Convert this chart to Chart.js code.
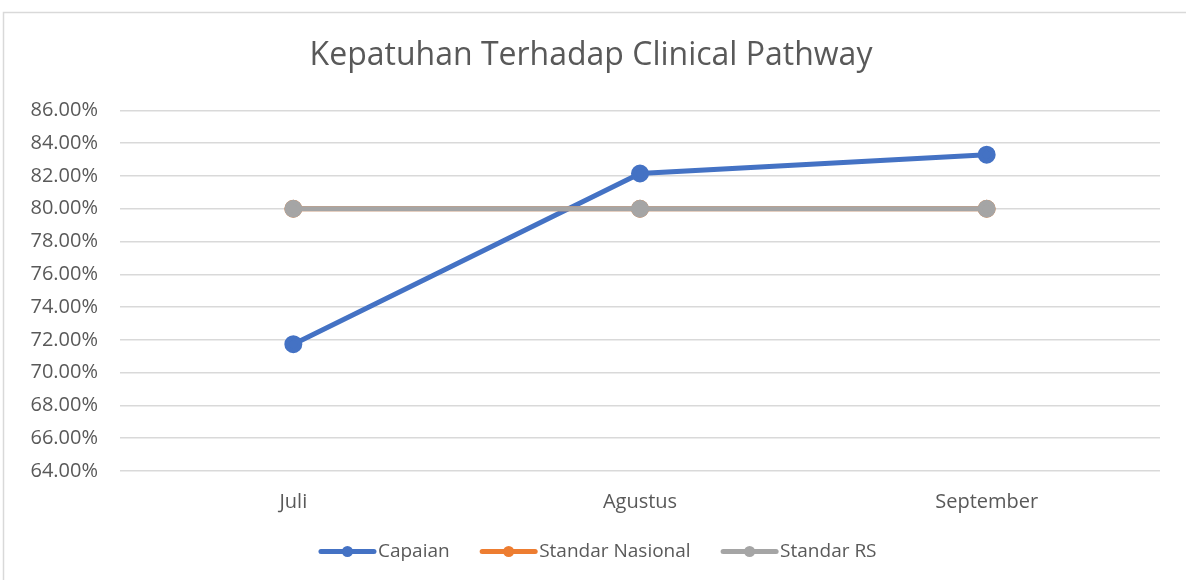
<!DOCTYPE html>
<html>
<head>
<meta charset="utf-8">
<script src="https://cdn.jsdelivr.net/npm/chart.js@4.4.1/dist/chart.umd.min.js"></script>
<style>
  html, body { margin: 0; padding: 0; background: #fff; }
  #wrap { position: relative; width: 1186px; height: 580px; }
</style>
</head>
<body>
<div id="wrap"><canvas id="chart_cp" width="1186" height="580"></canvas></div>
<script>
// DATA
var months = ['Juli', 'Agustus', 'September'];
var capaian = [71.74, 82.15, 83.3];
var standarNasional = [80, 80, 80];
var standarRS = [80, 80, 80];
var yMin = 64, yMax = 86, yStep = 2;

var FONT = 'Open Sans';
var TEXT = '#595959';
var LEG_BOX = 63;   // room chart.js keeps for the legend marker
var LEG_LINE = 57;  // length of the drawn legend line

// FRAME AROUND THE CHART (like the Excel chart border)
var framePlugin = {
	id: 'frame',
	beforeDraw: function(chart) {
		var ctx = chart.ctx;
		ctx.save();
		ctx.strokeStyle = '#d9d9d9';
		ctx.lineWidth = 1.5;
		ctx.strokeRect(3.5, 12.5, chart.width + 10, chart.height);
		ctx.restore();
	}
};

// LINE + DOT LEGEND MARKERS, EXCEL STYLE
var legendMarkers = {
	id: 'legendMarkers',
	afterDraw: function(chart) {
		var legend = chart.legend;
		if (!legend || !legend.legendHitBoxes) return;
		var ctx = chart.ctx;
		var fs = legend.options.labels.font.size;
		legend.legendHitBoxes.forEach(function(box, i) {
			var item = legend.legendItems[i];
			var ds = chart.data.datasets[item.datasetIndex];
			var x1 = box.left + LEG_BOX + fs / 2 - 2;
			var x0 = x1 - LEG_LINE;
			var y = box.top + box.height / 2;
			ctx.save();
			ctx.strokeStyle = ds.borderColor;
			ctx.fillStyle = ds.borderColor;
			ctx.lineWidth = 5;
			ctx.lineCap = 'round';
			ctx.beginPath();
			ctx.moveTo(x0 + 2, y);
			ctx.lineTo(x1 - 2, y);
			ctx.stroke();
			ctx.beginPath();
			ctx.arc((x0 + x1) / 2, y, 5.5, 0, Math.PI * 2);
			ctx.fill();
			ctx.restore();
		});
	}
};

var cp = document.getElementById('chart_cp').getContext('2d');
var cpChart = new Chart(cp, {
	type: 'line',
	data: {
		labels: months,
		datasets: [{
			label: 'Capaian',
			data: capaian,
			borderColor: '#4472c4',
			backgroundColor: '#4472c4',
			borderWidth: 5,
			pointRadius: 6.5,
			pointHoverRadius: 6.5,
			order: 3
		}, {
			label: 'Standar Nasional',
			data: standarNasional,
			borderColor: '#ed7d31',
			backgroundColor: '#ed7d31',
			borderWidth: 5,
			pointRadius: 6.5,
			order: 2
		}, {
			label: 'Standar RS',
			data: standarRS,
			borderColor: '#a5a5a5',
			backgroundColor: '#a5a5a5',
			borderWidth: 5,
			pointRadius: 6.5,
			order: 1
		}]
	},
	options: {
		responsive: false,
		animation: false,
		layout: {
			padding: { top: 37, left: 22, right: 26, bottom: 9 }
		},
		plugins: {
			title: {
				display: true,
				text: 'Kepatuhan Terhadap Clinical Pathway',
				color: TEXT,
				font: { family: FONT, size: 32, weight: 'normal' },
				padding: { top: 0, bottom: 35 }
			},
			legend: {
				position: 'bottom',
				labels: {
					color: TEXT,
					font: { family: FONT, size: 19 },
					boxWidth: LEG_BOX,
					boxHeight: 5,
					padding: 17,
					sort: function(a, b) { return a.datasetIndex - b.datasetIndex; },
					generateLabels: function(chart) {
						var items = Chart.defaults.plugins.legend.labels.generateLabels(chart);
						items.forEach(function(it) {
							it.fillStyle = 'rgba(0,0,0,0)';
							it.strokeStyle = 'rgba(0,0,0,0)';
							it.lineWidth = 0;
						});
						return items;
					}
				}
			},
			tooltip: { enabled: false }
		},
		scales: {
			x: {
				offset: true,
				grid: { display: false },
				border: { display: false },
				ticks: {
					color: TEXT,
					font: { family: FONT, size: 20 },
					padding: 11
				}
			},
			y: {
				min: yMin,
				max: yMax,
				grid: { color: '#d9d9d9', lineWidth: 1.5, drawTicks: false },
				border: { display: false },
				ticks: {
					stepSize: yStep,
					color: TEXT,
					font: { family: FONT, size: 20 },
					padding: 22,
					callback: function(v) { return v.toFixed(2) + '%'; }
				},
				afterFit: function(scale) { scale.width = 98; }
			}
		}
	},
	plugins: [framePlugin, legendMarkers]
});
</script>
</body>
</html>
